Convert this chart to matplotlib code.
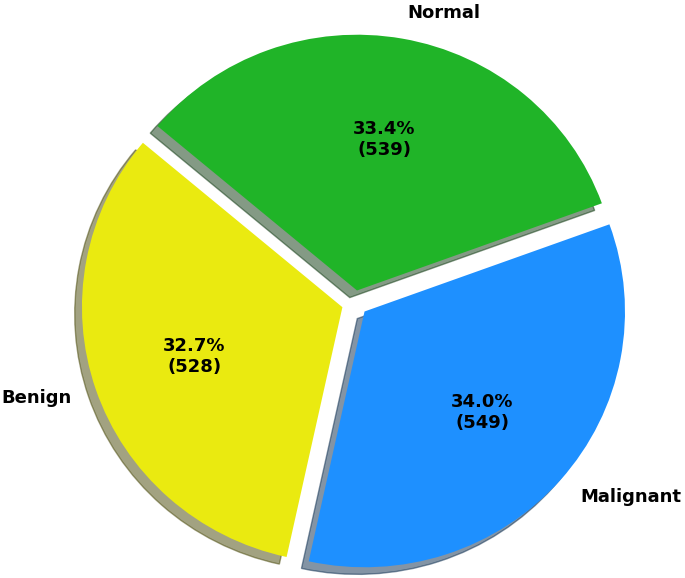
import matplotlib
matplotlib.use("Agg")
import matplotlib.pyplot as plt

labels = ["Benign", "Malignant", "Normal"]
counts = [528, 549, 539]
colors = ["#eaea10", "#1e90ff", "#20b428"]
explode = [0.05, 0.05, 0.05]

total = sum(counts)

def fmt(p):
    return f"{p:.1f}%\n({int(round(p * total / 100.0))})"

fig = plt.figure(figsize=(6.85, 5.78), dpi=100)
ax = fig.add_axes([0.0, 0.0, 1.0, 1.0])
wedges, texts, autotexts = ax.pie(
    counts, labels=labels, colors=colors, explode=explode,
    autopct=fmt, startangle=140, shadow=True,
    textprops={"fontsize": 13, "fontweight": "bold", "color": "black"},
)
ax.set_aspect("auto")
ax.set_xlim(-1.362, 1.268)
ax.set_ylim(-1.075, 1.185)
fig.savefig("out.png", dpi=100)
